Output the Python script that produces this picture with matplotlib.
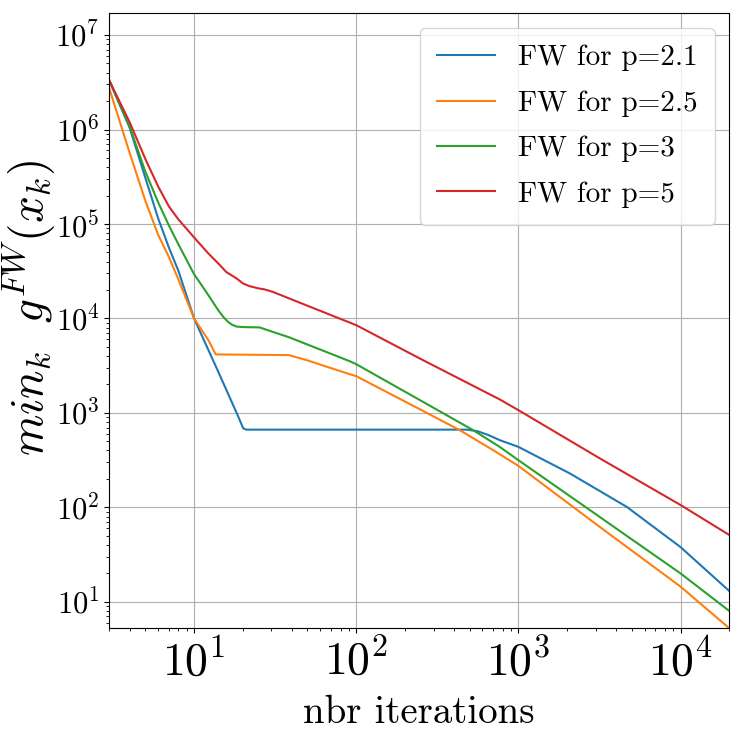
import matplotlib
matplotlib.use("Agg")
import matplotlib.pyplot as plt

plt.rcParams['font.family'] = 'serif'
plt.rcParams['font.serif'] = ['cmr10']
plt.rcParams['mathtext.fontset'] = 'cm'
plt.rcParams['axes.formatter.use_mathtext'] = True

# ---- data (iterations vs min_k gap) ----
labels = ["FW for p=2.1", "FW for p=2.5", "FW for p=3", "FW for p=5"]
x_major = [1e1, 1e2, 1e3, 1e4]
y_major = [1e1, 1e2, 1e3, 1e4, 1e5, 1e6, 1e7]

x_p21 = [3, 4, 5, 6, 7, 8, 10, 14, 18.3, 20.1, 21, 100, 480, 560,
         650, 767, 1000, 2075, 4670, 1e4, 2e4]
y_p21 = [3.3e6, 1.05e6, 3.1e5, 1.15e5, 5.6e4, 3.2e4, 1e4, 2800, 1000, 686,
         665, 665, 665, 640, 585, 515, 437, 229, 101, 38, 13]

x_p25 = [3, 4, 5, 6, 7, 8, 10, 12.25, 13.6, 38.4, 50, 91, 100, 258,
         434, 698, 1000, 3180, 1e4, 2e4]
y_p25 = [2.72e6, 5.7e5, 1.77e5, 7.7e4, 4.45e4, 2.59e4, 1e4, 5900, 4160, 4090,
         3600, 2570, 2450, 1050, 658, 404, 275, 62, 14.5, 5.25]

x_p3 = [3, 4, 5, 6, 7, 8, 10, 12, 14.1, 15.2, 16.2, 17.2, 18.3, 20, 25.3,
        38.7, 91, 100, 258, 525, 767, 1000, 3180, 1e4, 2e4]
y_p3 = [3.3e6, 1.08e6, 3.6e5, 1.7e5, 9.6e4, 6.1e4, 2.94e4, 1.86e4, 1.22e4,
        1.03e4, 9200, 8550, 8200, 8100, 8040, 6300, 3530, 3280, 1310, 658,
        437, 316, 79, 20, 8.0]

x_p5 = [3, 4, 5, 6, 7, 8, 10, 12.25, 14.1, 15.8, 18.3, 20, 21.9, 25,
        27.2, 30.6, 49.1, 100, 258, 767, 1000, 3180, 1e4, 2e4]
y_p5 = [3.3e6, 1.2e6, 4.9e5, 2.5e5, 1.53e5, 1.12e5, 7.2e4, 4.87e4, 3.82e4,
        3.1e4, 2.65e4, 2.35e4, 2.2e4, 2.08e4, 2.03e4, 1.91e4, 1.38e4, 8490,
        3620, 1390, 1070, 330, 106, 51]

xs = [x_p21, x_p25, x_p3, x_p5]
ys = [y_p21, y_p25, y_p3, y_p5]


def main():
    fig = plt.figure(figsize=(7.42, 7.38), dpi=100)
    ax = fig.add_axes([0.1473, 0.1487, 0.8356, 0.8333])

    for x, y, lab in zip(xs, ys, labels):
        ax.plot(x, y, label=lab, linewidth=1.5)

    ax.set_xscale('log')
    ax.set_yscale('log')
    ax.set_xticks(x_major)
    ax.set_yticks(y_major)
    ax.set_xlim(3, 2e4)
    ax.set_ylim(5.25, 1.7e7)
    ax.grid(True, which='major')

    ax.tick_params(axis='x', which='major', labelsize=33)
    ax.tick_params(axis='y', which='major', labelsize=22)

    ax.set_xlabel('nbr iterations', fontsize=28, labelpad=8)
    ax.set_ylabel(r'$min_k\ \ g^{FW}(x_k)$', fontsize=34)
    ax.yaxis.set_label_coords(-0.083, 0.521)

    ax.legend(loc='upper right', fontsize=21, labelspacing=0.65,
              borderpad=0.58)

    fig.savefig('out.png', dpi=100)


if __name__ == "__main__":
    main()
